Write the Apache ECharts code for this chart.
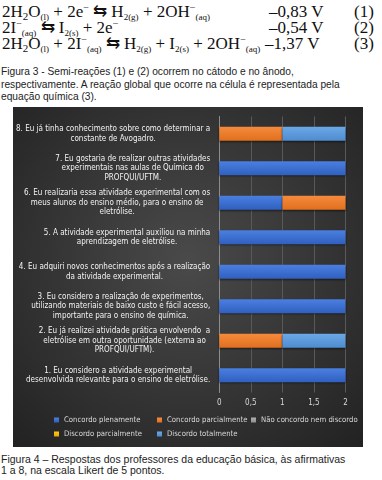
<!DOCTYPE html>
<html><head><meta charset="utf-8">
<script src="https://cdn.jsdelivr.net/npm/echarts@6/dist/echarts.min.js"></script>
<style>
html,body{margin:0;padding:0;background:#fff;width:382px;height:480px;overflow:hidden;position:relative}
.eq{position:absolute;left:2px;font-family:'Liberation Serif','Times New Roman',serif;font-size:17px;line-height:16px;height:16px;color:#111;white-space:nowrap}
.eq sub{font-size:9px;vertical-align:-3px;line-height:0}
.eq sub.n{font-size:11px;vertical-align:-3px}
.eq sup{font-size:10px;vertical-align:6px;line-height:0}
.v{position:absolute;font-family:'Liberation Serif','Times New Roman',serif;font-size:17px;line-height:16px;color:#111;white-space:nowrap}
.cap{position:absolute;left:1px;font-family:'Liberation Sans',Arial,sans-serif;font-size:10.2px;color:#222;white-space:nowrap}
#chart{position:absolute;left:13px;top:107px;width:350px;height:340px}
</style></head>
<body>
<div class="eq" style="top:4px">2H<sub class="n">2</sub>O<sub>(l)</sub> + 2e<sup>−</sup> ⇆ H<sub>2(g)</sub> + 2OH<sup>−</sup><sub>(aq)</sub></div>
<div class="eq" style="top:20px">2I<sup>−</sup><sub>(aq)</sub> ⇆ I<sub>2(s)</sub> + 2e<sup>−</sup></div>
<div class="eq" style="top:36px">2H<sub class="n">2</sub>O<sub>(l)</sub> + 2I<sup>−</sup><sub>(aq)</sub> ⇆ H<sub>2(g)</sub> + I<sub>2(s)</sub> + 2OH<sup>−</sup><sub>(aq)</sub></div>
<div class="v" style="top:4px;left:269px">–0,83 V</div><div class="v" style="top:4px;left:354px">(1)</div>
<div class="v" style="top:20px;left:269px">–0,54 V</div><div class="v" style="top:20px;left:354px">(2)</div>
<div class="v" style="top:36px;left:265px">–1,37 V</div><div class="v" style="top:36px;left:354px">(3)</div>
<div class="cap" style="top:66px;line-height:12.5px">Figura 3 - Semi-reações (1) e (2) ocorrem no cátodo e no ânodo,<br>respectivamente. A reação global que ocorre na célula é representada pela<br>equação química (3).</div>
<div id="chart"></div>
<div class="cap" style="top:454px;line-height:11px;font-size:10.5px">Figura 4 – Respostas dos professores da educação básica, às afirmativas<br>1 a 8, na escala Likert de 5 pontos.</div>
<script>
const categories = [
  "1. Eu considero a atividade experimental\ndesenvolvida relevante para o ensino de eletrólise.",
  "2. Eu já realizei atividade prática envolvendo  a\neletrólise em outra oportunidade (externa ao\nPROFQUI/UFTM).",
  "3. Eu considero a realização de experimentos,\nutilizando materiais de baixo custo e fácil acesso,\nimportante para o ensino de química.",
  "4. Eu adquiri novos conhecimentos após a realização\nda atividade experimental.",
  "5. A atividade experimental auxiliou na minha\naprendizagem de eletrólise.",
  "6. Eu realizaria essa atividade experimental com os\nmeus alunos do ensino médio, para o ensino de\neletrólise.",
  "7. Eu gostaria de realizar outras atividades\nexperimentais nas aulas de Química do\nPROFQUI/UFTM.",
  "8. Eu já tinha conhecimento sobre como determinar a\nconstante de Avogadro."
];
const seriesNames = ["Concordo plenamente","Concordo parcialmente","Não concordo nem discordo","Discordo parcialmente","Discordo totalmente"];
const concordoPlenamente   = [2,0,2,2,2,1,2,0];
const concordoParcialmente = [0,1,0,0,0,1,0,1];
const naoConcordoNemDiscordo = [0,0,0,0,0,0,0,0];
const discordoParcialmente = [0,0,0,0,0,0,0,0];
const discordoTotalmente   = [0,1,0,0,0,0,0,1];
const xTickLabels = ["0","0,5","1","1,5","2"];

const seriesData = [concordoPlenamente, concordoParcialmente, naoConcordoNemDiscordo, discordoParcialmente, discordoTotalmente];
const colorsTop = ['#4a7fe0','#f68a3c','#b0b0b0','#ffc814','#6aa8e6'];
const colorsBot = ['#3060c0','#e0701e','#909090','#e6a800','#4f8cd0'];
const legendColors = ['#4472c4','#ed7d31','#a5a5a5','#ffc000','#5b9bd5'];
const FONT = "'Liberation Sans Narrow','DejaVu Sans Condensed',sans-serif";
// legend grid: column left offsets and row tops (px inside the chart)
const legendCols = [41, 144, 238];
const legendRows = [309, 323];

const chart = echarts.init(document.getElementById('chart'), null, {renderer:'canvas'});
chart.setOption({
  animation:false,
  backgroundColor:{type:'radial',x:0.5,y:0.45,r:0.75,colorStops:[{offset:0,color:'#4a4a4a'},{offset:1,color:'#222222'}]},
  color: legendColors,
  grid:{left:191,right:17.5,top:9.5,bottom:54.5,containLabel:false},
  legend: seriesNames.map((n,i)=>({
    left: legendCols[i % 3], top: legendRows[Math.floor(i / 3)],
    itemWidth:5, itemHeight:5, icon:'rect', padding:0,
    textStyle:{color:'#d9d9d9',fontSize:7.7,fontFamily:FONT},
    data:[n]
  })),
  xAxis:{type:'value',min:0,max:2,interval:0.5,
    axisLine:{show:false},axisTick:{show:false},
    splitLine:{show:true,lineStyle:{color:'#595959',width:1}},
    axisLabel:{color:'#d9d9d9',fontSize:8,fontFamily:FONT,margin:6,
      formatter:(v)=>xTickLabels[Math.round(v/0.5)]}
  },
  yAxis:{type:'category',data:categories,
    axisLine:{show:true,lineStyle:{color:'#8c8c8c',width:1}},axisTick:{show:false},
    axisLabel:{margin:9,align:'right',fontFamily:FONT,fontSize:8,color:'#f2f2f2',lineHeight:9.5,
      formatter:(v)=>v.split('\n').map(l=>'{c|'+l+'}').join('\n'),
      rich:{c:{align:'center',fontFamily:FONT,fontSize:8,color:'#f2f2f2',lineHeight:9.5}}
    }
  },
  series: seriesNames.map((n,i)=>({
    name:n,type:'bar',stack:'total',barWidth:'40%',
    data:seriesData[i],
    itemStyle:{color:{type:'linear',x:0,y:0,x2:0,y2:1,colorStops:[{offset:0,color:colorsTop[i]},{offset:1,color:colorsBot[i]}]},
      shadowColor:'rgba(0,0,0,0.5)',shadowBlur:2,shadowOffsetY:1}
  }))
});
</script>
</body></html>
